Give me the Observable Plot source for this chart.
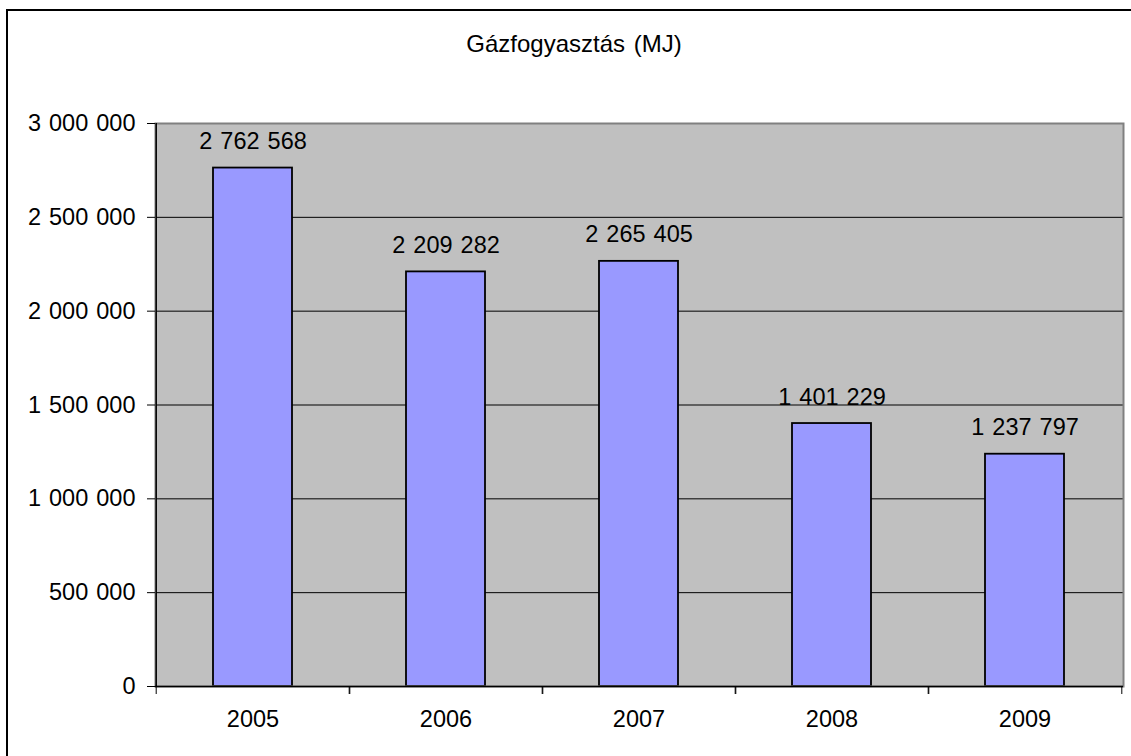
<!DOCTYPE html>
<html><head><meta charset="utf-8">
<script src="https://cdn.jsdelivr.net/npm/d3@7"></script>
<script src="https://cdn.jsdelivr.net/npm/@observablehq/plot@0.6"></script>
<style>
html,body{margin:0;padding:0;background:#fff;overflow:hidden;}
#wrap{position:relative;width:1131px;height:756px;}
#chart{position:absolute;left:0;top:0;}
#title{position:absolute;left:0;top:32px;width:1148px;text-align:center;font-family:"Liberation Sans",Arial,sans-serif;font-size:24px;line-height:24px;word-spacing:2px;color:#000;}
#border{position:absolute;left:6px;top:9px;width:1200px;height:800px;border:2px solid #000;box-sizing:border-box;pointer-events:none;}
</style></head>
<body>
<div id="wrap"><div id="chart"></div><div id="title"></div><div id="border"></div></div>
<script>
const chartTitle = "Gázfogyasztás (MJ)";
const years = ["2005", "2006", "2007", "2008", "2009"];
const consumption = [2762568, 2209282, 2265405, 1401229, 1237797];
const yTicks = [0, 500000, 1000000, 1500000, 2000000, 2500000, 3000000];

const rows = years.map((y, i) => ({year: y, value: consumption[i]}));
const fmt = d3.formatLocale({decimal: ",", thousands: " ", grouping: [3], currency: ["", ""]}).format(",d");

const W = 1131, H = 756, ML = 155, MR = 8, MT = 123, MB = 70;
const step = (W - ML - MR) / years.length;

document.getElementById("title").textContent = chartTitle;

const chart = Plot.plot({
  width: W,
  height: H,
  marginLeft: ML,
  marginRight: MR,
  marginTop: MT,
  marginBottom: MB,
  style: {fontFamily: "'Liberation Sans', Arial, sans-serif", fontSize: "23.5px", wordSpacing: "1.5px", background: "transparent", color: "#000"},
  x: {type: "band", domain: years, paddingInner: 0.59, paddingOuter: 0.295, label: null},
  y: {domain: [0, 3000000], label: null},
  marks: [
    Plot.frame({fill: "#c0c0c0", stroke: "none"}),
    Plot.ruleY(yTicks.slice(1), {stroke: "#000", strokeWidth: 1}),
    Plot.barY(rows, {x: "year", y: "value", fill: "#9999ff", stroke: "#000", strokeWidth: 1.8}),
    Plot.text(rows, {x: "year", y: "value", text: d => fmt(d.value), lineAnchor: "bottom", dy: -19, fill: "#000"}),
    Plot.frame({stroke: "#808080", strokeWidth: 2}),
    Plot.ruleY([0], {stroke: "#000", strokeWidth: 1.5}),
    Plot.ruleX([years[0]], {dx: -step / 2, y1: 0, y2: 3000000, stroke: "#000", strokeWidth: 1.5}),
    Plot.axisY({ticks: yTicks, tickSize: 8, tickPadding: 12, tickFormat: fmt, label: null, stroke: "#000"}),
    Plot.axisX({ticks: years, tickSize: 8, tickFormat: () => "", dx: -step / 2, label: null, stroke: "#000"}),
    Plot.axisX({ticks: years, tickSize: 8, tickFormat: () => "", dx: step / 2, label: null, stroke: "#000"}),
    Plot.axisX({ticks: years, tickSize: 0, tickPadding: 24, label: null})
  ]
});
document.getElementById("chart").appendChild(chart);
</script>
</body></html>
